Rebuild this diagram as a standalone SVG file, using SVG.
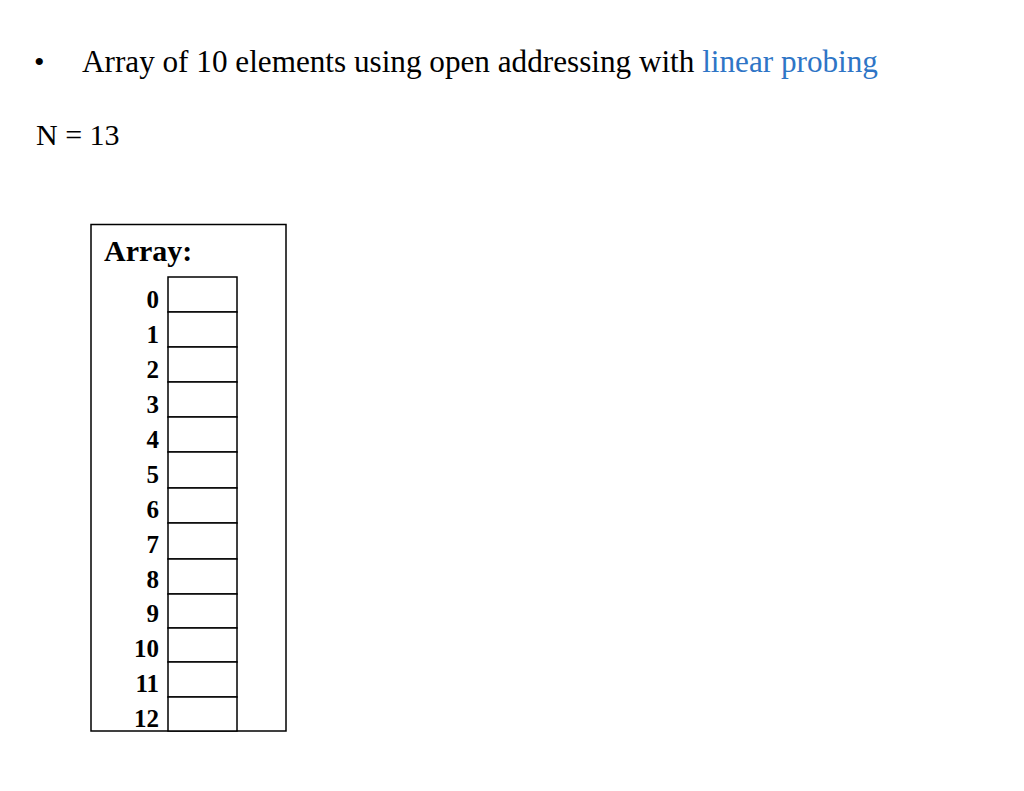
<svg xmlns="http://www.w3.org/2000/svg" width="1024" height="791" viewBox="0 0 1024 791">
<style>
text{font-family:"Liberation Serif",serif;fill:#000}
.idx{font-size:25px;font-weight:bold;text-anchor:end}
.cell{fill:#fff;stroke:#000;stroke-width:1.5}
</style>
<rect width="1024" height="791" fill="#fff"/>
<text x="34" y="72" font-size="30">•</text>
<text x="82" y="72" font-size="31.2">Array of 10 elements using open addressing with <tspan fill="#2e75c6">linear probing</tspan></text>
<text x="36" y="145" font-size="30">N = 13</text>
<g id="array">
<rect x="91" y="224.5" width="195" height="506.5" fill="none" stroke="#000" stroke-width="1.5"/>
<text x="104" y="261" font-size="30" font-weight="bold">Array:</text>
<g id="cells">
<rect class="cell" x="168" y="277" width="69" height="35"/>
<rect class="cell" x="168" y="312" width="69" height="35"/>
<rect class="cell" x="168" y="347" width="69" height="35"/>
<rect class="cell" x="168" y="382" width="69" height="35"/>
<rect class="cell" x="168" y="417" width="69" height="35"/>
<rect class="cell" x="168" y="452" width="69" height="36"/>
<rect class="cell" x="168" y="488" width="69" height="35"/>
<rect class="cell" x="168" y="523" width="69" height="36"/>
<rect class="cell" x="168" y="559" width="69" height="35"/>
<rect class="cell" x="168" y="594" width="69" height="34"/>
<rect class="cell" x="168" y="628" width="69" height="34"/>
<rect class="cell" x="168" y="662" width="69" height="35"/>
<rect class="cell" x="168" y="697" width="69" height="34"/>
</g>
<g id="labels">
<text class="idx" x="159" y="308">0</text>
<text class="idx" x="159" y="343">1</text>
<text class="idx" x="159" y="378">2</text>
<text class="idx" x="159" y="413">3</text>
<text class="idx" x="159" y="448">4</text>
<text class="idx" x="159" y="483">5</text>
<text class="idx" x="159" y="518">6</text>
<text class="idx" x="159" y="553">7</text>
<text class="idx" x="159" y="588">8</text>
<text class="idx" x="159" y="622">9</text>
<text class="idx" x="159" y="657">10</text>
<text class="idx" x="159" y="692">11</text>
<text class="idx" x="159" y="727">12</text>
</g>
</g>
</svg>
